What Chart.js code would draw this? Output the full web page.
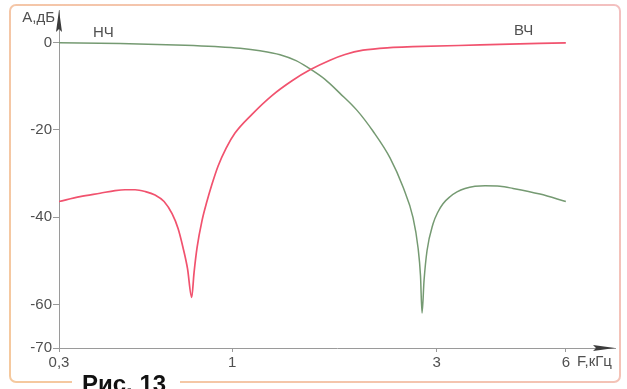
<!DOCTYPE html>
<html>
<head>
<meta charset="utf-8">
<script src="https://cdn.jsdelivr.net/npm/chart.js@4/dist/chart.umd.min.js"></script>
<style>
  html, body { margin: 0; padding: 0; background: #fff; }
  #wrap { position: relative; width: 627px; height: 389px; }
</style>
</head>
<body>
<div id="wrap"><canvas id="c" width="627" height="389"></canvas></div>
<script>
// Frequency (kHz) and attenuation (dB) of the high-pass (ВЧ) branch
const hfFreq = [0.3, 0.3474, 0.3994, 0.4431, 0.4749, 0.5092, 0.546, 0.5853, 0.6232, 0.6588, 0.6869, 0.7111, 0.7336, 0.755,
                0.7677, 0.7839, 0.8114, 0.8403, 0.870, 0.907, 0.959, 1.016, 1.113, 1.239, 1.38, 1.52, 1.692, 1.834, 2.02, 2.335, 2.64, 3.79, 6.0];
const hfDb   = [-36.4, -35.3, -34.5, -33.9, -33.7, -33.7, -34.1, -34.9, -36.4, -39.2, -42.6, -47.0, -51.8, -58.4,
                -52.7, -47.0, -40.8, -36.3, -32.4, -28.3, -24.2, -20.7, -16.4, -12.1, -8.7, -6.2, -4.0, -2.7, -1.7, -1.1, -0.9, -0.5, 0];

// Frequency (kHz) and attenuation (dB) of the low-pass (НЧ) branch
const lfFreq = [0.3, 0.4587, 0.721, 0.888, 1.044, 1.162, 1.294, 1.41, 1.503, 1.647, 1.785, 1.956, 2.132, 2.335, 2.504, 2.642, 2.714, 2.75, 2.773,
                2.803, 2.848, 2.942, 3.02, 3.103, 3.222, 3.345, 3.492, 3.685, 3.889, 4.214, 4.519, 5.224, 6.0];
const lfDb   = [0, -0.15, -0.57, -0.87, -1.25, -1.82, -2.74, -4.1, -5.7, -8.4, -11.6, -15.5, -20.3, -26.4, -33.1, -40.1, -47.0, -53.4, -62.0,
                -54.5, -47.7, -41.5, -38.8, -36.9, -35.3, -34.2, -33.4, -32.9, -32.8, -32.9, -33.4, -34.7, -36.4];

// Axis ticks
const xTicks = [0.3, 1, 3, 6];
const xTickLabels = ['0,3', '1', '3', '6'];
const yTicks = [0, -20, -40, -60, -70];

// The frequency axis is logarithmic, with the sub-kilohertz part drawn compressed
const BELOW_1K = 0.7716;
function warp(f) {
  const l = Math.log10(f);
  return l < 0 ? l * BELOW_1K : l;
}

const FONT = "'Liberation Sans', Arial, sans-serif";
const TEXT = '#505050';
const AXIS = '#9a9a9a';

function pts(fs, ds) { return fs.map((f, i) => ({ x: warp(f), y: ds[i] })); }

const decor = {
  id: 'decor',
  beforeDraw(chart) {
    const ctx = chart.ctx;
    ctx.save();
    ctx.fillStyle = '#fff';
    ctx.fillRect(0, 0, chart.width, chart.height);
    // frame around the figure
    const g = ctx.createLinearGradient(10, 382, 620, 5);
    g.addColorStop(0, '#f5c99e');
    g.addColorStop(1, '#f3c0c0');
    ctx.strokeStyle = g;
    ctx.lineWidth = 2;
    ctx.beginPath();
    ctx.roundRect(10, 5, 610, 377, 6);
    ctx.stroke();
    ctx.restore();
  },
  afterDraw(chart) {
    const ctx = chart.ctx;
    const a = chart.chartArea;
    const x0 = chart.scales.x.left;
    const y0 = chart.scales.y.bottom;
    ctx.save();
    // arrowheads on the axes
    ctx.fillStyle = '#3c3c3c';
    ctx.beginPath();
    ctx.moveTo(x0, a.top);
    ctx.lineTo(x0 + 3, a.top + 22);
    ctx.lineTo(x0, a.top + 19);
    ctx.lineTo(x0 - 3, a.top + 22);
    ctx.closePath();
    ctx.fill();
    ctx.beginPath();
    ctx.moveTo(a.right, y0);
    ctx.lineTo(a.right - 22, y0 - 3);
    ctx.lineTo(a.right - 19, y0);
    ctx.lineTo(a.right - 22, y0 + 3);
    ctx.closePath();
    ctx.fill();

    // axis captions and curve names
    ctx.fillStyle = TEXT;
    ctx.font = '15px ' + FONT;
    ctx.textBaseline = 'middle';
    ctx.textAlign = 'right';
    ctx.fillText('А,дБ', 55, 18);
    ctx.textAlign = 'left';
    ctx.fillText('F,кГц', 577, 362);
    ctx.fillText('НЧ', 93, 33);
    ctx.fillText('ВЧ', 514, 31);

    // figure caption breaking the bottom of the frame
    ctx.fillStyle = '#fff';
    ctx.fillRect(72, 376, 108, 13);
    ctx.fillStyle = '#111';
    ctx.font = 'bold 24px ' + FONT;
    ctx.textBaseline = 'alphabetic';
    ctx.fillText('Рис. 13', 82, 392);
    ctx.restore();
  }
};

new Chart(document.getElementById('c'), {
  type: 'scatter',
  data: {
    datasets: [
      {
        label: 'ВЧ',
        data: pts(hfFreq, hfDb),
        showLine: true,
        borderColor: '#f1526e',
        borderWidth: 1.7,
        pointRadius: 0,
        cubicInterpolationMode: 'monotone'
      },
      {
        label: 'НЧ',
        data: pts(lfFreq, lfDb),
        showLine: true,
        borderColor: '#759a72',
        borderWidth: 1.5,
        pointRadius: 0,
        cubicInterpolationMode: 'monotone'
      }
    ]
  },
  options: {
    responsive: false,
    animation: false,
    devicePixelRatio: 1,
    layout: { padding: { top: 8, right: 12, left: 0, bottom: 0 } },
    plugins: { legend: { display: false }, tooltip: { enabled: false } },
    scales: {
      x: {
        type: 'linear',
        min: warp(0.3),
        max: 0.8928,
        afterFit(s) { s.height = 41; },
        afterBuildTicks(s) { s.ticks = xTicks.map(v => ({ value: warp(v) })); },
        ticks: {
          autoSkip: false,
          maxRotation: 0,
          padding: 2,
          color: TEXT,
          font: { family: FONT, size: 15 },
          callback(v, i) { return xTickLabels[i]; }
        },
        grid: { drawOnChartArea: false, tickLength: 4, color: AXIS, tickWidth: 1 },
        border: { color: AXIS, width: 1 }
      },
      y: {
        min: -70,
        max: 7.52,
        afterFit(s) { s.width = 59; },
        afterBuildTicks(s) { s.ticks = yTicks.map(v => ({ value: v })); },
        ticks: {
          padding: 1,
          color: TEXT,
          font: { family: FONT, size: 15 },
          callback(v) { return String(v); }
        },
        grid: { drawOnChartArea: false, tickLength: 6, color: AXIS, tickWidth: 1 },
        border: { color: AXIS, width: 1 }
      }
    }
  },
  plugins: [decor]
});
</script>
</body>
</html>
